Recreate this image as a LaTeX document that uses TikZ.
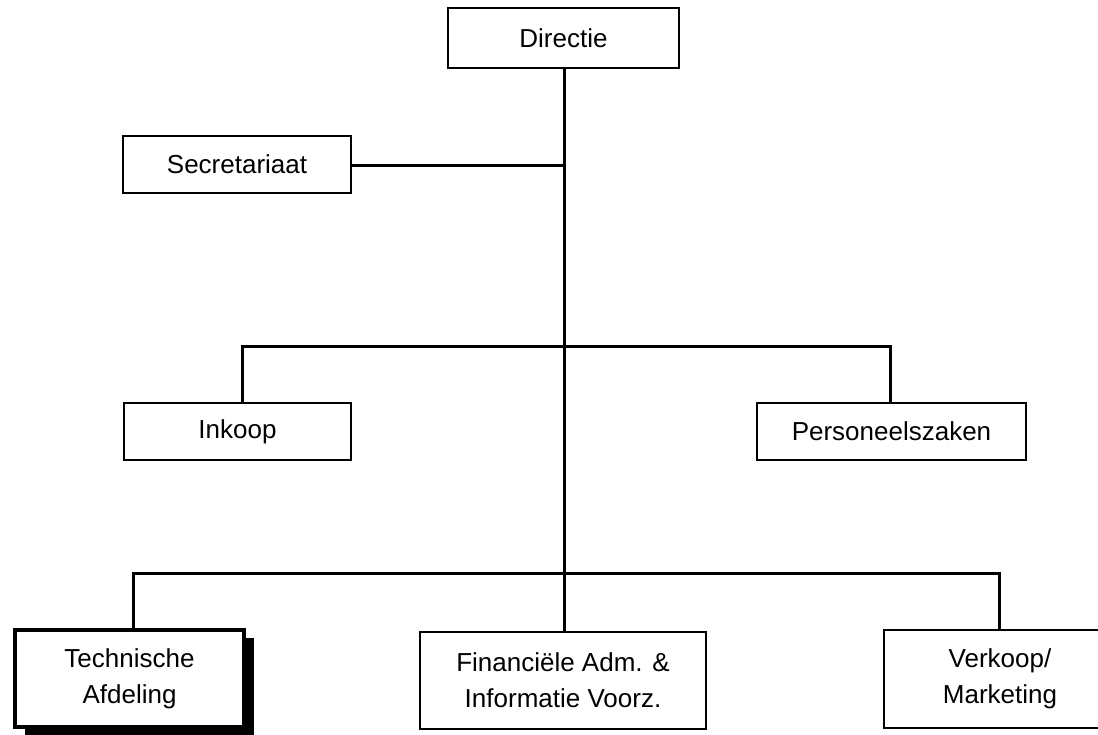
\documentclass[tikz,border=0pt]{standalone}
\usepackage{fontspec}
\setmainfont{Liberation Sans}
\usetikzlibrary{shadows}
\begin{document}
\begin{tikzpicture}[x=1pt,y=-1pt,
  unit/.style={draw=black, line width=2.5pt, fill=white, rectangle,
    inner sep=0pt, align=center,
    font=\fontsize{26}{36}\selectfont},
  keyunit/.style={unit, line width=4pt,
    drop shadow={shadow xshift=10pt, shadow yshift=-8pt, opacity=1, fill=black}},
  link/.style={line width=3pt}]
\useasboundingbox (0,0) rectangle (1098,734);
\clip (0,0) rectangle (1098,734);

% top level
\node[unit, minimum width=231pt, minimum height=60pt] (dir) at (563.5,38) {Directie};
\node[unit, minimum width=228pt, minimum height=57pt] (sec) at (237,164.5) {Secretariaat};

% staff departments
\node[unit, minimum width=227pt, minimum height=57pt] (ink) at (237.5,431.5) {Inkoop};
\node[unit, minimum width=269pt, minimum height=57pt] (pers) at (891.5,431.5) {Personeelszaken};

% line departments
\node[keyunit, minimum width=229pt, minimum height=97pt] (tech) at (129.5,678.5) {Technische\\Afdeling};
\node[unit, minimum width=286pt, minimum height=97pt] (fin) at (563,680.5) {Financiële Adm. \&\\Informatie Voorz.};
\node[unit, minimum width=232pt, minimum height=98pt] (verk) at (1000,679) {Verkoop/\\Marketing};

% branch points
\coordinate (spine) at (564,0);
\coordinate (secj) at (564,165);
\coordinate (midl) at (242,346);
\coordinate (midr) at (890,346);
\coordinate (lowl) at (133,573);
\coordinate (lowr) at (999,573);

% connectors
\draw[link] (dir.south -| spine) -- (fin.north -| spine);
\draw[link] (sec.east |- secj) -- (secj);
\draw[link] (ink.north -| midl) -- (midl) -- (midr) -- (pers.north -| midr);
\draw[link] (tech.north -| lowl) -- (lowl) -- (lowr) -- (verk.north -| lowr);
\end{tikzpicture}
\end{document}
